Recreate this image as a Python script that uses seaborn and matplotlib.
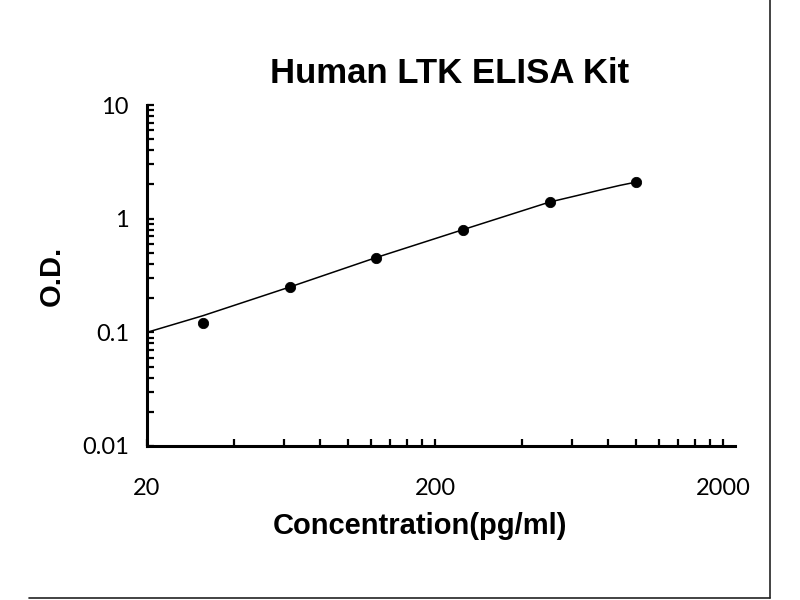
import matplotlib
matplotlib.use("Agg")
import matplotlib.pyplot as plt
from matplotlib.lines import Line2D
from matplotlib.ticker import FixedLocator, LogLocator, NullFormatter
import seaborn as sns
import pandas as pd

# standard points (concentration pg/ml, O.D.)
concentration = [31.25, 62.5, 125, 250, 500, 1000]
od = [0.12, 0.25, 0.455, 0.80, 1.41, 2.11]

# fitted curve
curve_conc = [20, 31.25, 62.5, 125, 250, 500, 625, 750, 875, 1000]
curve_od = [0.100, 0.140, 0.25, 0.455, 0.80, 1.40, 1.60, 1.79, 1.96, 2.10]

x_major = [20, 200, 2000]
y_major = [0.01, 0.1, 1, 10]
x_labels = ["20", "200", "2000"]
y_labels = ["0.01", "0.1", "1", "10"]

title = "Human LTK ELISA Kit"
xlabel = "Concentration(pg/ml)"
ylabel = "O.D."

pts = pd.DataFrame({"conc": concentration, "od": od})
crv = pd.DataFrame({"conc": curve_conc, "od": curve_od})

sns.set_style("ticks")
plt.rcParams['font.family'] = ['Lato', 'DejaVu Sans']
plt.rcParams['text.color'] = 'black'
plt.rcParams['axes.labelcolor'] = 'black'
plt.rcParams['xtick.color'] = 'black'
plt.rcParams['ytick.color'] = 'black'

fig = plt.figure(figsize=(8, 6), dpi=100, facecolor='white')
ax = fig.add_axes([147/800, 1-446/600, (735-147)/800, (446-105)/600])

sns.lineplot(data=crv, x="conc", y="od", color="black", linewidth=1.1, ax=ax)
sns.scatterplot(data=pts, x="conc", y="od", color="black", s=55, edgecolor="black", zorder=3, ax=ax)

ax.set_xscale("log")
ax.set_yscale("log")
ax.set_xlim(20, 2000 * 10 ** (12/288))
ax.set_ylim(0.01, 10)

ax.xaxis.set_major_locator(FixedLocator(x_major))
ax.xaxis.set_minor_locator(FixedLocator([m * k for m in x_major[:-1] for k in range(2, 10)]))
ax.set_xticklabels(x_labels)
ax.xaxis.set_minor_formatter(NullFormatter())
ax.yaxis.set_major_locator(FixedLocator(y_major))
ax.yaxis.set_minor_locator(LogLocator(base=10, subs=range(2, 10)))
ax.set_yticklabels(y_labels)
ax.yaxis.set_minor_formatter(NullFormatter())

for s in ["top", "right"]:
    ax.spines[s].set_visible(False)
for s in ["left", "bottom"]:
    ax.spines[s].set_linewidth(2.2)
    ax.spines[s].set_color("black")

ax.tick_params(axis="both", which="both", direction="in", length=5, width=1.6,
               color="black", labelcolor="black")
ax.tick_params(axis="x", which="major", pad=23, labelsize=17)
ax.tick_params(axis="y", which="major", pad=13, labelsize=17)

ax.set_xlabel(xlabel, fontsize=21, fontweight="bold", color="black",
              family=["Liberation Sans", "DejaVu Sans"])
ax.xaxis.label.set_va("center")
ax.xaxis.set_label_coords(0.464, -(526-446)/341)
ax.set_ylabel(ylabel, fontsize=21, fontweight="bold", color="black",
              family=["Liberation Sans", "DejaVu Sans"])
ax.yaxis.label.set_va("center")
ax.yaxis.set_label_coords(-0.162, 0.5)

fig.text(450/800, 1-83/600, title, ha="center", va="baseline", fontsize=25,
         fontweight="bold", color="black", family=["Liberation Sans", "DejaVu Sans"])

# border of the original screenshot
fig.add_artist(Line2D([770/800, 770/800], [1.0, 1-598/600], color="#222222", linewidth=1.2))
fig.add_artist(Line2D([29/800, 770/800], [1-598/600, 1-598/600], color="#222222", linewidth=1.2))

fig.savefig("out.png", dpi=100, facecolor="white")
